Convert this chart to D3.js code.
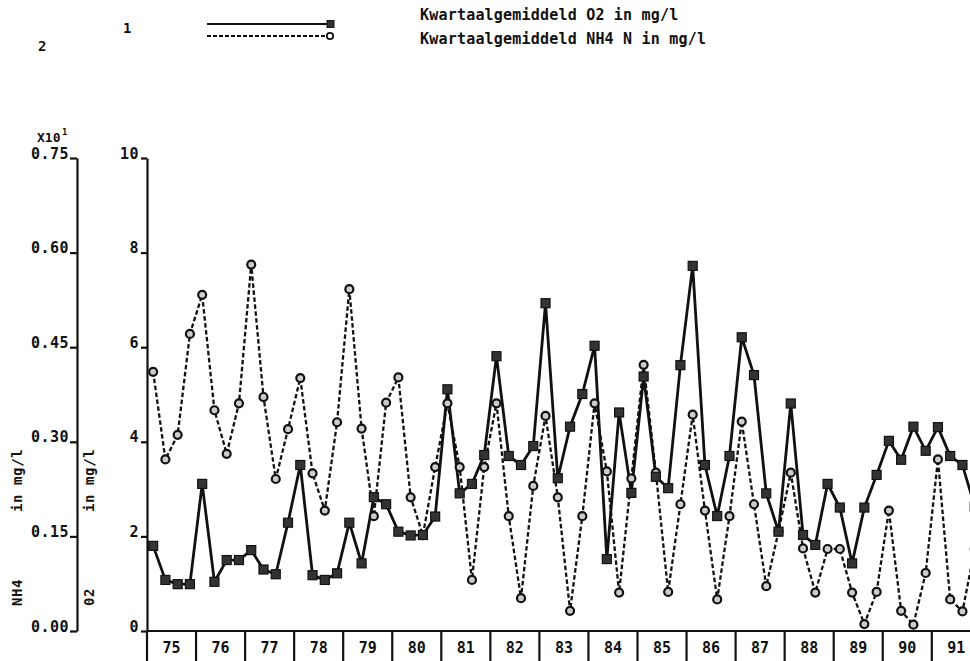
<!DOCTYPE html>
<html>
<head>
<meta charset="utf-8">
<script src="https://cdn.jsdelivr.net/npm/d3@7"></script>
<style>
  body { margin: 0; background: #fff; }
  svg text { font-family: "DejaVu Sans Mono", "Liberation Mono", monospace; font-weight: bold; fill: #111; }
</style>
</head>
<body>
<div id="chart"></div>
<script>
// quarterly averages, 1975 Q1 .. 1991 Q4 (last quarters run off the plot)
var years = ["75", "76", "77", "78", "79", "80", "81", "82", "83", "84", "85", "86", "87", "88", "89", "90", "91"];
var o2 = [1.80, 1.08, 0.99, 0.99, 3.11, 1.04, 1.50, 1.50, 1.71, 1.30,
          1.20, 2.29, 3.51, 1.18, 1.08, 1.22, 2.29, 1.43, 2.83, 2.68,
          2.10, 2.02, 2.03, 2.42, 5.11, 2.91, 3.11, 3.72, 5.81, 3.70,
          3.51, 3.91, 6.93, 3.23, 4.32, 5.01, 6.03, 1.52, 4.62, 2.92,
          5.38, 3.26, 3.02, 5.62, 7.72, 3.51, 2.43, 3.70, 6.21, 5.41,
          2.91, 2.10, 4.81, 2.03, 1.82, 3.11, 2.61, 1.43, 2.61, 3.30,
          4.02, 3.62, 4.32, 3.81, 4.31, 3.70, 3.51, 2.63];
// NH4 on the left axis (x10^1)
var nh4 = [0.411, 0.272, 0.311, 0.471, 0.533, 0.350, 0.281, 0.361, 0.581, 0.371,
           0.241, 0.320, 0.401, 0.250, 0.191, 0.331, 0.542, 0.321, 0.182, 0.362,
           0.402, 0.212, 0.152, 0.260, 0.361, 0.260, 0.081, 0.260, 0.361, 0.182,
           0.052, 0.230, 0.341, 0.212, 0.032, 0.182, 0.361, 0.253, 0.061, 0.242,
           0.422, 0.251, 0.062, 0.201, 0.343, 0.191, 0.050, 0.182, 0.332, 0.201,
           0.071, 0.158, 0.251, 0.131, 0.061, 0.130, 0.130, 0.061, 0.011, 0.062,
           0.191, 0.032, 0.010, 0.092, 0.272, 0.050, 0.031, 0.130];
var o2Ticks = [0, 2, 4, 6, 8, 10];
var nh4Ticks = [0, 0.15, 0.30, 0.45, 0.60, 0.75];
var legendLabels = ["Kwartaalgemiddeld O2 in mg/l", "Kwartaalgemiddeld NH4 N in mg/l"];

var W = 970, H = 661;
var plotLeft = 147, plotTop = 158, plotBottom = 631, yearW = 49.05;
var ink = "#111";

var svg = d3.select("#chart").append("svg")
    .attr("width", W)
    .attr("height", H);

var x = d3.scaleLinear().domain([0, years.length]).range([plotLeft, plotLeft + years.length * yearW]);
var band = d3.scaleBand().domain(years).range([plotLeft, plotLeft + years.length * yearW]);
var yO = d3.scaleLinear().domain([0, 10]).range([plotBottom, plotTop]);
var yN = d3.scaleLinear().domain([0, 0.75]).range([plotBottom, plotTop]);

function qx(d, i) { return x((i + 0.5) / 4); }

// left NH4 axis
var axN = svg.append("g")
    .attr("transform", "translate(77,0)")
    .call(d3.axisLeft(yN).tickValues(nh4Ticks).tickSize(7).tickSizeOuter(0).tickFormat(d3.format(".2f")));
// right O2 axis
var axO = svg.append("g")
    .attr("transform", "translate(" + plotLeft + ",0)")
    .call(d3.axisLeft(yO).tickValues(o2Ticks).tickSize(6).tickSizeOuter(0).tickFormat(d3.format("d")));

[axN, axO].forEach(function(g) {
    g.selectAll("path, line").attr("stroke", ink).attr("stroke-width", 2.2);
    g.selectAll("text")
        .attr("dy", 0)
        .attr("x", -8)
        .style("font-size", "15px")
        .style("font-family", "DejaVu Sans Mono")
        .style("font-weight", "bold")
        .style("letter-spacing", "0.5px")
        .attr("fill", ink);
});

// O2 axis runs down through the year strip
svg.append("line")
    .attr("x1", plotLeft).attr("x2", plotLeft)
    .attr("y1", plotBottom).attr("y2", H)
    .attr("stroke", ink).attr("stroke-width", 2.2);

svg.append("text").attr("x", 37).attr("y", 142).style("font-size", "13px").text("X10");
svg.append("text").attr("x", 62).attr("y", 135).style("font-size", "9px").text("1");

// rotated axis titles
function vtitle(tx, ty, label) {
    svg.append("text")
        .attr("transform", "translate(" + tx + "," + ty + ") rotate(-90)")
        .style("font-size", "14px")
        .style("letter-spacing", "0.6px")
        .text(label);
}
vtitle(22, 512, "in mg/l");
vtitle(22, 606, "NH4");
vtitle(94, 512, "in mg/l");
vtitle(94, 606, "02");

// bottom: year cells
svg.append("line")
    .attr("x1", plotLeft).attr("x2", W)
    .attr("y1", plotBottom).attr("y2", plotBottom)
    .attr("stroke", ink).attr("stroke-width", 2.2);

svg.selectAll(".divider")
    .data(years.slice(1))
    .enter().append("line")
    .attr("class", "divider")
    .attr("x1", function(d) { return band(d); })
    .attr("x2", function(d) { return band(d); })
    .attr("y1", plotBottom).attr("y2", H)
    .attr("stroke", ink).attr("stroke-width", 2.2);

svg.selectAll(".year")
    .data(years)
    .enter().append("text")
    .attr("class", "year")
    .attr("x", function(d) { return band(d) + band.bandwidth() / 2; })
    .attr("y", 653)
    .attr("text-anchor", "middle")
    .style("font-size", "15px")
    .text(function(d) { return d; });

// series
var lineO = d3.line().x(qx).y(function(d) { return yO(d); });
var lineN = d3.line().x(qx).y(function(d) { return yN(d); });

svg.append("path")
    .datum(nh4)
    .attr("fill", "none")
    .attr("stroke", ink)
    .attr("stroke-width", 2.3)
    .attr("stroke-dasharray", "4.5,2.5")
    .attr("d", lineN);

svg.append("path")
    .datum(o2)
    .attr("fill", "none")
    .attr("stroke", ink)
    .attr("stroke-width", 2.8)
    .attr("d", lineO);

svg.selectAll(".nh4")
    .data(nh4)
    .enter().append("circle")
    .attr("class", "nh4")
    .attr("cx", qx)
    .attr("cy", function(d) { return yN(d); })
    .attr("r", 4)
    .attr("fill", "#ccc")
    .attr("stroke", ink)
    .attr("stroke-width", 2.2);

svg.selectAll(".o2")
    .data(o2)
    .enter().append("rect")
    .attr("class", "o2")
    .attr("x", function(d, i) { return qx(d, i) - 4.5; })
    .attr("y", function(d) { return yO(d) - 4.5; })
    .attr("width", 9)
    .attr("height", 9)
    .attr("fill", "#333")
    .attr("stroke", ink)
    .attr("stroke-width", 1.2);

// legend
svg.append("text").attr("x", 123).attr("y", 33).style("font-size", "14px").text("1");
svg.append("text").attr("x", 38).attr("y", 51).style("font-size", "14px").text("2");

var legend = svg.selectAll(".leg")
    .data(legendLabels)
    .enter().append("g")
    .attr("class", "leg")
    .attr("transform", function(d, i) { return "translate(0," + (i === 0 ? 24 : 36) + ")"; });

legend.append("line")
    .attr("x1", 207).attr("x2", 328)
    .attr("stroke", ink)
    .attr("stroke-width", function(d, i) { return i === 0 ? 2.2 : 1.8; })
    .attr("stroke-dasharray", function(d, i) { return i === 0 ? null : "4,2"; });

legend.each(function(d, i) {
    var g = d3.select(this);
    if (i === 0) {
        g.append("rect").attr("x", 327).attr("y", -3.5).attr("width", 7).attr("height", 7)
            .attr("fill", "#333").attr("stroke", ink);
    } else {
        g.append("circle").attr("cx", 330).attr("r", 3.2)
            .attr("fill", "#fff").attr("stroke", ink).attr("stroke-width", 1.8);
    }
});

svg.selectAll(".legtext")
    .data(legendLabels)
    .enter().append("text")
    .attr("class", "legtext")
    .attr("x", 420)
    .attr("y", function(d, i) { return i === 0 ? 20 : 44; })
    .style("font-size", "15px")
    .style("letter-spacing", "0.2px")
    .text(function(d) { return d; });
</script>
</body>
</html>
